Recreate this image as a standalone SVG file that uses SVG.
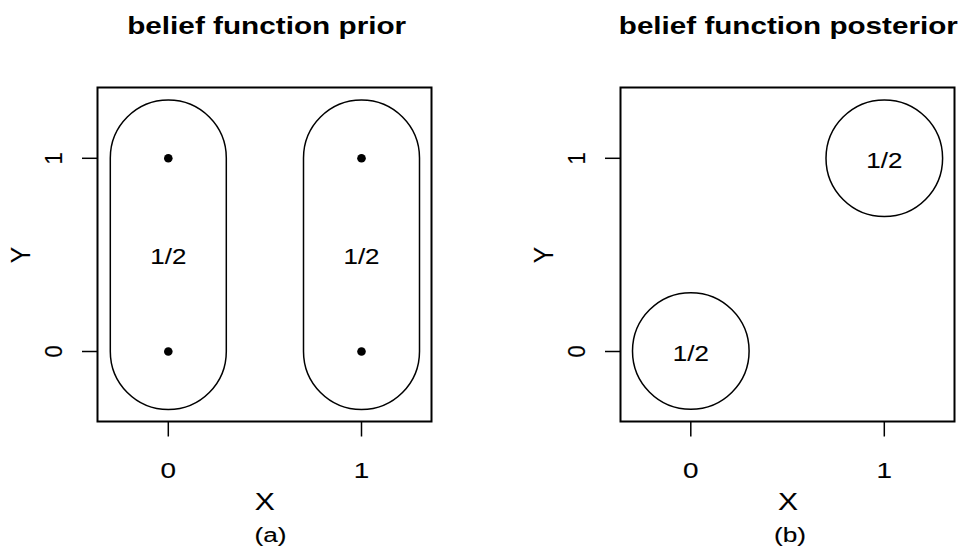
<svg xmlns="http://www.w3.org/2000/svg" width="961" height="550" viewBox="0 0 961 550" font-family="'Liberation Sans', Arial, Helvetica, sans-serif">
<defs>
<style>
.box{fill:none;stroke:#000;stroke-width:2}
.shape{fill:none;stroke:#000;stroke-width:1.5}
.tk{stroke:#000;stroke-width:1.5}
.t{stroke:#000;stroke-width:0.12}
</style>
</defs>
<rect width="961" height="550" fill="#fff"/>

<g id="panel-a">
  <text font-family="'Liberation Sans', Arial, sans-serif" font-weight="bold" font-size="24.5" text-anchor="middle" x="266.7" y="34" textLength="279" lengthAdjust="spacingAndGlyphs">belief function prior</text>
  <rect class="box" x="97.5" y="87.5" width="334" height="334"/>
  <g id="a-axes" font-family="'Liberation Sans', Arial, sans-serif" text-anchor="middle">
    <line class="tk" x1="168.3" y1="421.5" x2="168.3" y2="436.5"/>
    <line class="tk" x1="361.5" y1="421.5" x2="361.5" y2="436.5"/>
    <line class="tk" x1="82" y1="158.3" x2="97.5" y2="158.3"/>
    <line class="tk" x1="82" y1="351.5" x2="97.5" y2="351.5"/>
    <text class="t" font-size="22" x="168.3" y="477.5" textLength="15.5" lengthAdjust="spacingAndGlyphs">0</text>
    <text class="t" font-size="22" x="361.5" y="477.5" textLength="15.5" lengthAdjust="spacingAndGlyphs">1</text>
    <text class="t" font-size="24.5" x="264.7" y="509.5" textLength="20" lengthAdjust="spacingAndGlyphs">X</text>
    <text class="t" font-size="22" transform="translate(61.7,158.3) rotate(-90) scale(1,1.1)">1</text>
    <text class="t" font-size="22" transform="translate(61.7,351.5) rotate(-90) scale(1,1.1)">0</text>
    <text class="t" font-size="24.5" transform="translate(30,255) rotate(-90) scale(1,1.1)">Y</text>
    <text class="t" font-size="19.5" x="270.5" y="541.5" textLength="32" lengthAdjust="spacingAndGlyphs">(a)</text>
  </g>
  <g id="a-focal-x0" font-family="'Liberation Sans', Arial, sans-serif" text-anchor="middle">
    <rect class="shape" x="110.3" y="100" width="116" height="309.5" rx="58" ry="58"/>
    <circle cx="168.3" cy="158.3" r="4.3"/>
    <circle cx="168.3" cy="351.5" r="4.3"/>
    <text class="t" font-size="22.5" x="168.3" y="264.3" textLength="36" lengthAdjust="spacingAndGlyphs">1/2</text>
  </g>
  <g id="a-focal-x1" font-family="'Liberation Sans', Arial, sans-serif" text-anchor="middle">
    <rect class="shape" x="303.5" y="100" width="116" height="309.5" rx="58" ry="58"/>
    <circle cx="361.5" cy="158.3" r="4.3"/>
    <circle cx="361.5" cy="351.5" r="4.3"/>
    <text class="t" font-size="22.5" x="361.5" y="264.3" textLength="36" lengthAdjust="spacingAndGlyphs">1/2</text>
  </g>
</g>

<g id="panel-b">
  <text font-family="'Liberation Sans', Arial, sans-serif" font-weight="bold" font-size="24.5" text-anchor="middle" x="788.3" y="34" textLength="339" lengthAdjust="spacingAndGlyphs">belief function posterior</text>
  <rect class="box" x="620.5" y="87.5" width="334" height="334"/>
  <g id="b-axes" font-family="'Liberation Sans', Arial, sans-serif" text-anchor="middle">
    <line class="tk" x1="690.8" y1="421.5" x2="690.8" y2="436.5"/>
    <line class="tk" x1="884.3" y1="421.5" x2="884.3" y2="436.5"/>
    <line class="tk" x1="605" y1="158.3" x2="620.5" y2="158.3"/>
    <line class="tk" x1="605" y1="351.5" x2="620.5" y2="351.5"/>
    <text class="t" font-size="22" x="690.8" y="477.5" textLength="15.5" lengthAdjust="spacingAndGlyphs">0</text>
    <text class="t" font-size="22" x="884.3" y="477.5" textLength="15.5" lengthAdjust="spacingAndGlyphs">1</text>
    <text class="t" font-size="24.5" x="788" y="509.5" textLength="20" lengthAdjust="spacingAndGlyphs">X</text>
    <text class="t" font-size="22" transform="translate(584.7,158.3) rotate(-90) scale(1,1.1)">1</text>
    <text class="t" font-size="22" transform="translate(584.7,351.5) rotate(-90) scale(1,1.1)">0</text>
    <text class="t" font-size="24.5" transform="translate(553,255) rotate(-90) scale(1,1.1)">Y</text>
    <text class="t" font-size="19.5" x="790" y="541.5" textLength="32" lengthAdjust="spacingAndGlyphs">(b)</text>
  </g>
  <g id="b-focal-11" font-family="'Liberation Sans', Arial, sans-serif" text-anchor="middle">
    <circle class="shape" cx="884.3" cy="158.3" r="58.3"/>
    <text class="t" font-size="22.5" x="884.3" y="167.5" textLength="36" lengthAdjust="spacingAndGlyphs">1/2</text>
  </g>
  <g id="b-focal-00" font-family="'Liberation Sans', Arial, sans-serif" text-anchor="middle">
    <circle class="shape" cx="690.8" cy="351" r="58.3"/>
    <text class="t" font-size="22.5" x="690.8" y="361" textLength="36" lengthAdjust="spacingAndGlyphs">1/2</text>
  </g>
</g>
</svg>
